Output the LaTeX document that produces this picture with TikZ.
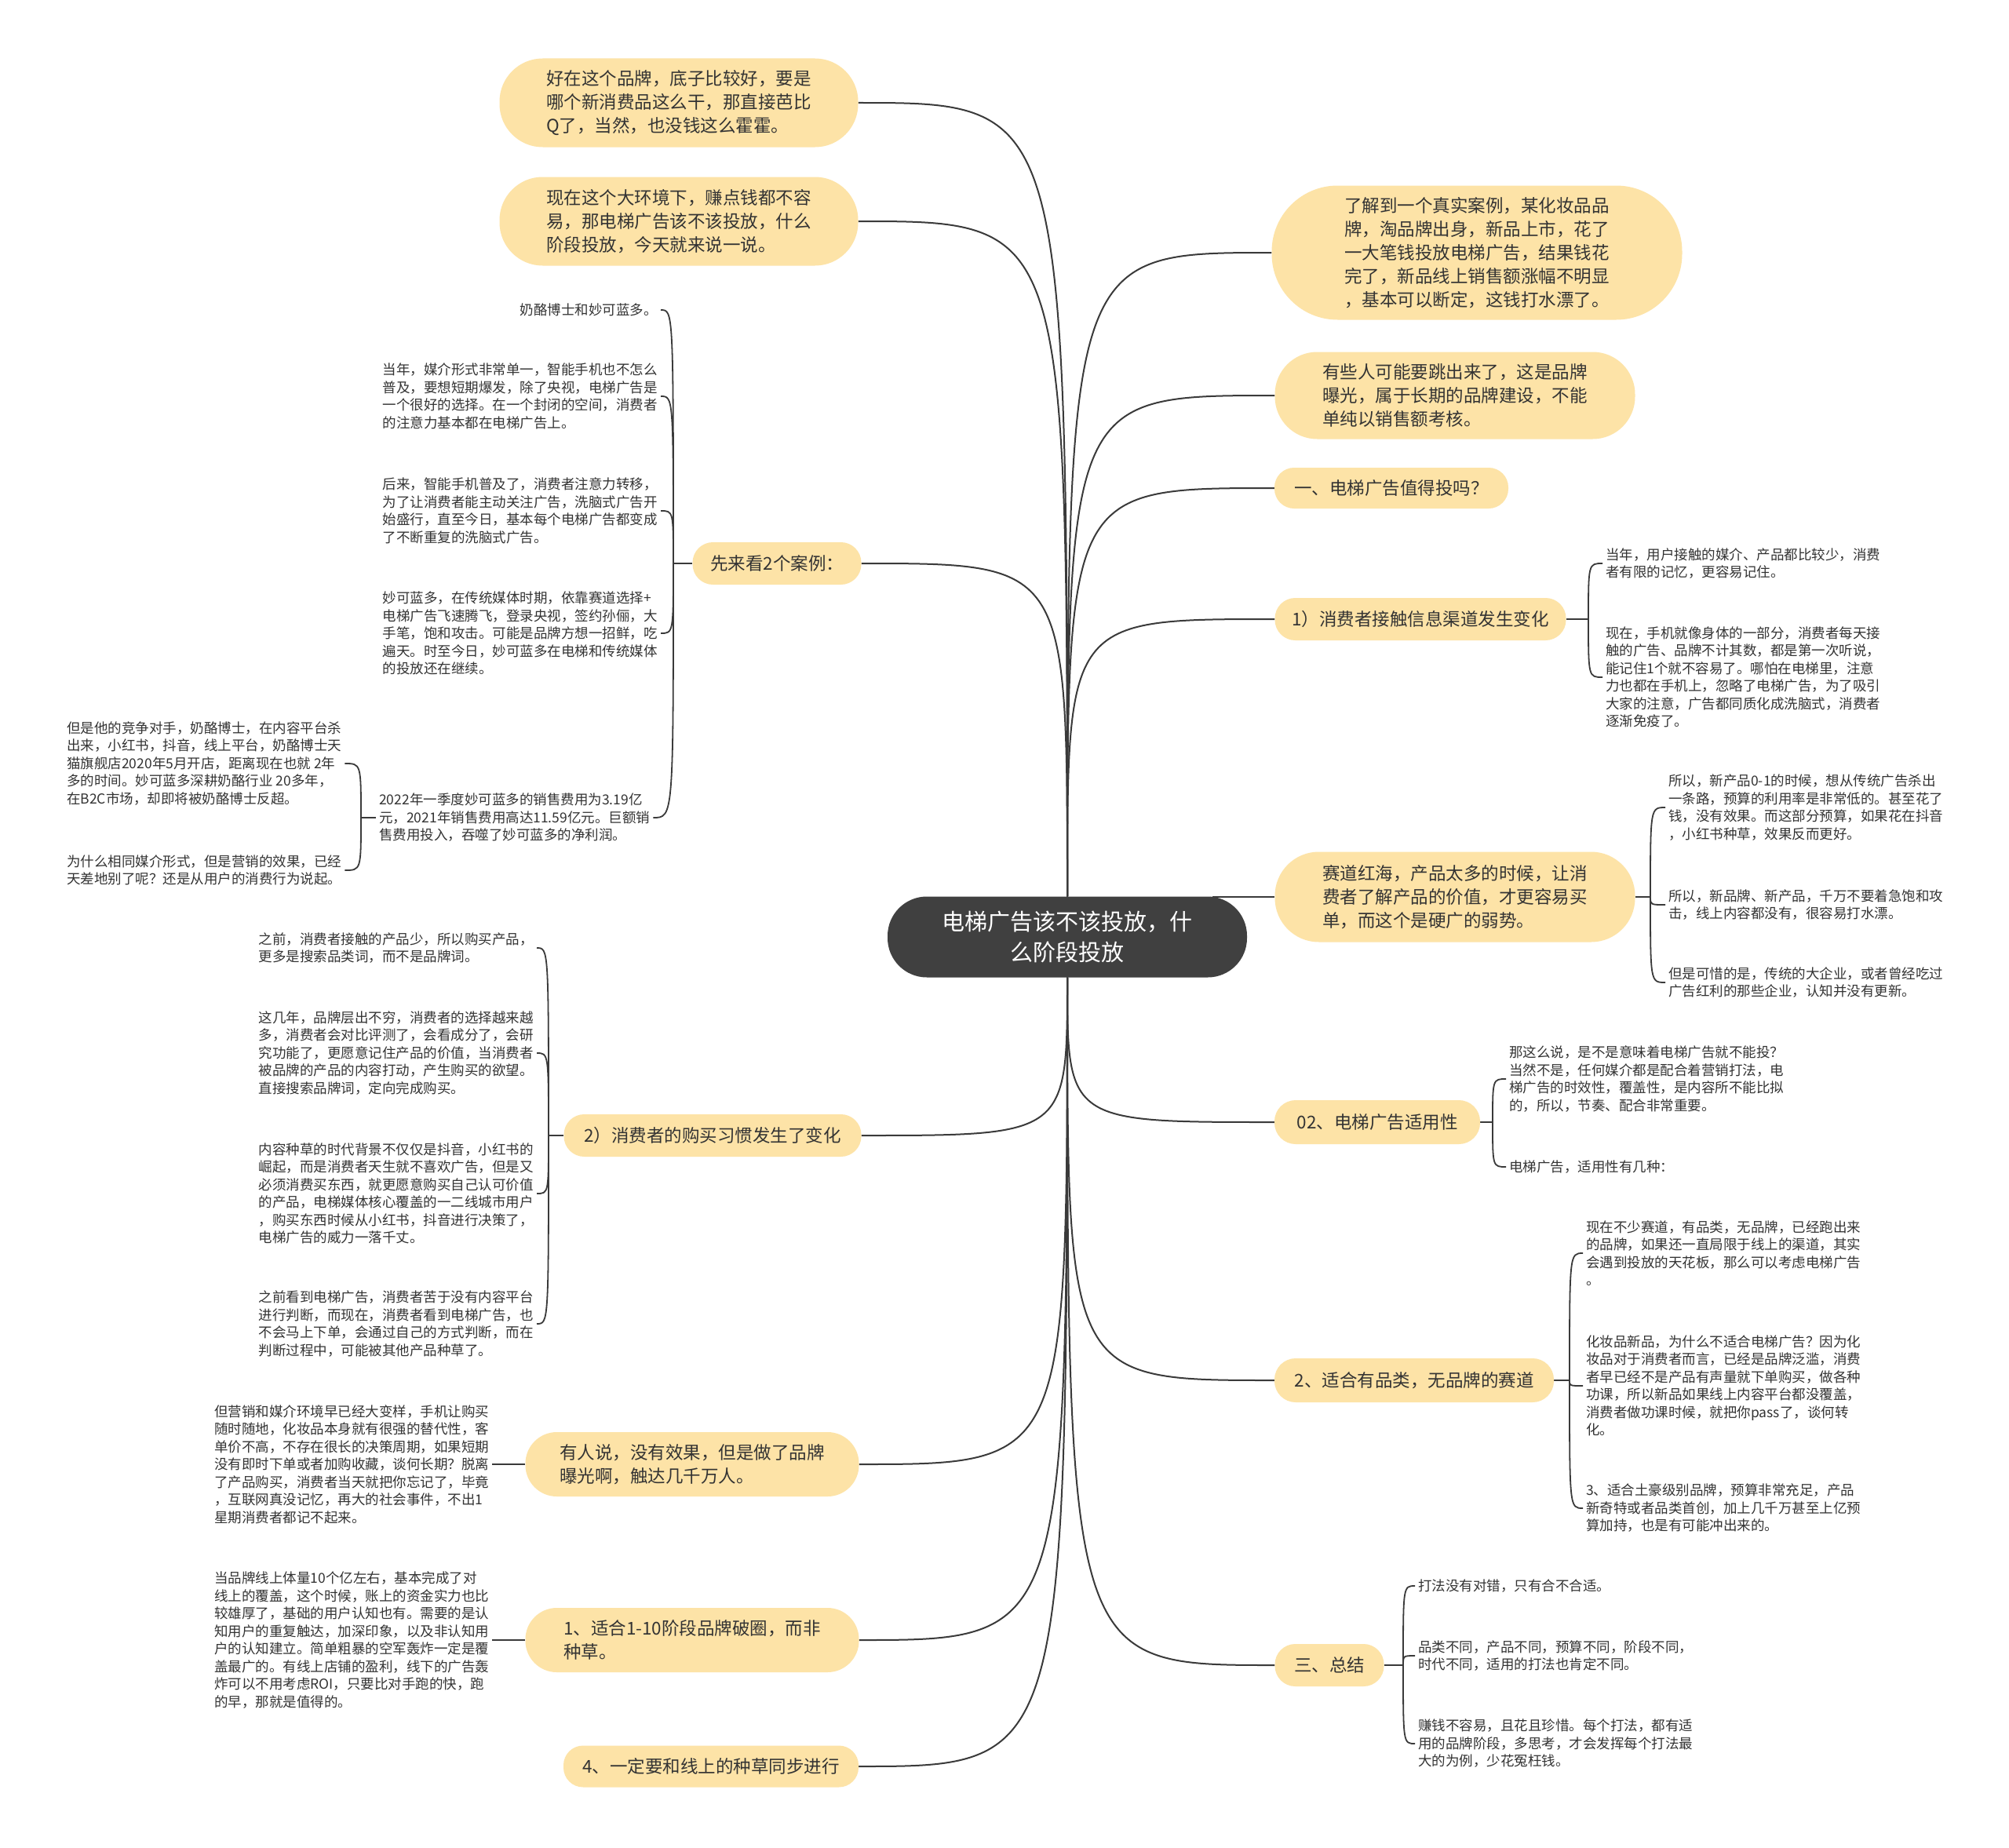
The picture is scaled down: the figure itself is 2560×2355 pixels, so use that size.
\documentclass[tikz,border=0pt]{standalone}
\usepackage{fontspec}
\setmainfont{Noto Sans CJK SC}
\usetikzlibrary{calc}
\definecolor{nodefill}{HTML}{FDE3A7}
\definecolor{centerfill}{HTML}{404040}
\definecolor{linecol}{HTML}{3A3A3A}
\definecolor{txt}{HTML}{333333}
\pgfdeclarelayer{bg}
\pgfdeclarelayer{paper}
\pgfsetlayers{paper,bg,main}
\tikzset{
  mainbox/.style={fill=nodefill, text=txt, font=\fontsize{22.5pt}{30pt}\selectfont, align=left, inner sep=0pt},
  leaf/.style={text=txt, font=\fontsize{17.5pt}{22.5pt}\selectfont, align=left, inner xsep=4pt, inner ysep=2pt},
  conn/.style={draw=linecol, line width=2pt},
  brk/.style={draw=linecol, line width=1.8pt},
}
\begin{document}
\begin{tikzpicture}[x=1pt,y=-1pt]
\begin{pgfonlayer}{paper}
\fill[white] (0,0) rectangle (2560,2355);
\end{pgfonlayer}
\useasboundingbox (0,0) rectangle (2560,2355);

% center
\node[fill=centerfill, text=white, font=\fontsize{29pt}{39pt}\selectfont, align=center, minimum width=458pt, minimum height=103pt, rounded corners=50pt, inner sep=0pt] (c) at (1360,1194) {电梯广告该不该投放，什\\么阶段投放};

% right main nodes
\node[mainbox, minimum width=523pt, minimum height=171pt, rounded corners=84pt] (r1) at (1882,322) {了解到一个真实案例，某化妆品品\\牌，淘品牌出身，新品上市，花了\\一大笔钱投放电梯广告，结果钱花\\完了，新品线上销售额涨幅不明显\\，基本可以断定，这钱打水漂了。};
\node[mainbox, minimum width=459pt, minimum height=111pt, rounded corners=54pt] (r2) at (1854,504) {有些人可能要跳出来了，这是品牌\\曝光，属于长期的品牌建设，不能\\单纯以销售额考核。};
\node[mainbox, minimum width=298pt, minimum height=52pt, rounded corners=25pt] (r3) at (1773,622) {一、电梯广告值得投吗？};
\node[mainbox, minimum width=371pt, minimum height=54pt, rounded corners=26pt] (r4) at (1810,789) {1）消费者接触信息渠道发生变化};
\node[mainbox, minimum width=459pt, minimum height=115pt, rounded corners=56pt] (r5) at (1854,1143) {赛道红海，产品太多的时候，让消\\费者了解产品的价值，才更容易买\\单，而这个是硬广的弱势。};
\node[mainbox, minimum width=262pt, minimum height=56pt, rounded corners=27pt] (r6) at (1755,1430) {02、电梯广告适用性};
\node[mainbox, minimum width=356pt, minimum height=56pt, rounded corners=27pt] (r7) at (1802,1759) {2、适合有品类，无品牌的赛道};
\node[mainbox, minimum width=139pt, minimum height=54pt, rounded corners=26pt] (r8) at (1694,2122) {三、总结};

% left main nodes
\node[mainbox, minimum width=457pt, minimum height=113pt, rounded corners=55pt] (l1) at (865,131) {好在这个品牌，底子比较好，要是\\哪个新消费品这么干，那直接芭比\\Q了，当然，也没钱这么霍霍。};
\node[mainbox, minimum width=457pt, minimum height=113pt, rounded corners=55pt] (l2) at (865,282) {现在这个大环境下，赚点钱都不容\\易，那电梯广告该不该投放，什么\\阶段投放，今天就来说一说。};
\node[mainbox, minimum width=215pt, minimum height=54pt, rounded corners=26pt] (l3) at (990,718) {先来看2个案例：};
\node[mainbox, minimum width=379pt, minimum height=54pt, rounded corners=26pt] (l4) at (908,1447) {2）消费者的购买习惯发生了变化};
\node[mainbox, minimum width=425pt, minimum height=82pt, rounded corners=40pt] (l5) at (882,1866) {有人说，没有效果，但是做了品牌\\曝光啊，触达几千万人。};
\node[mainbox, minimum width=425pt, minimum height=82pt, rounded corners=40pt] (l6) at (882,2090) {1、适合1-10阶段品牌破圈，而非\\种草。};
\node[mainbox, minimum width=376pt, minimum height=53pt, rounded corners=25pt] (l7) at (906,2251) {4、一定要和线上的种草同步进行};

% leaves of l3
\node[leaf, anchor=east] (c1) at (842,395) {奶酪博士和妙可蓝多。};
\node[leaf, anchor=east] (c2) at (842,505) {当年，媒介形式非常单一，智能手机也不怎么\\普及，要想短期爆发，除了央视，电梯广告是\\一个很好的选择。在一个封闭的空间，消费者\\的注意力基本都在电梯广告上。};
\node[leaf, anchor=east] (c3) at (842,651) {后来，智能手机普及了，消费者注意力转移，\\为了让消费者能主动关注广告，洗脑式广告开\\始盛行，直至今日，基本每个电梯广告都变成\\了不断重复的洗脑式广告。};
\node[leaf, anchor=east] (c4) at (842,807) {妙可蓝多，在传统媒体时期，依靠赛道选择+\\电梯广告飞速腾飞，登录央视，签约孙俪，大\\手笔，饱和攻击。可能是品牌方想一招鲜，吃\\遍天。时至今日，妙可蓝多在电梯和传统媒体\\的投放还在继续。};
\node[leaf, anchor=west] (c5) at (479,1042) {2022年一季度妙可蓝多的销售费用为3.19亿\\元，2021年销售费用高达11.59亿元。巨额销\\售费用投入，吞噬了妙可蓝多的净利润。};
\node[leaf, anchor=west] (c5a) at (81,973) {但是他的竞争对手，奶酪博士，在内容平台杀\\出来，小红书，抖音，线上平台，奶酪博士天\\猫旗舰店2020年5月开店，距离现在也就 2年\\多的时间。妙可蓝多深耕奶酪行业 20多年，\\在B2C市场，却即将被奶酪博士反超。};
\node[leaf, anchor=west] (c5b) at (81,1109) {为什么相同媒介形式，但是营销的效果，已经\\天差地别了呢？还是从用户的消费行为说起。};

% leaves of l4
\node[leaf, anchor=east] (d1) at (684,1208) {之前，消费者接触的产品少，所以购买产品，\\更多是搜索品类词，而不是品牌词。};
\node[leaf, anchor=east] (d2) at (684,1342) {这几年，品牌层出不穷，消费者的选择越来越\\多，消费者会对比评测了，会看成分了，会研\\究功能了，更愿意记住产品的价值，当消费者\\被品牌的产品的内容打动，产生购买的欲望。\\直接搜索品牌词，定向完成购买。};
\node[leaf, anchor=east] (d3) at (684,1521) {内容种草的时代背景不仅仅是抖音，小红书的\\崛起，而是消费者天生就不喜欢广告，但是又\\必须消费买东西，就更愿意购买自己认可价值\\的产品，电梯媒体核心覆盖的一二线城市用户\\，购买东西时候从小红书，抖音进行决策了，\\电梯广告的威力一落千丈。};
\node[leaf, anchor=east] (d4) at (684,1687) {之前看到电梯广告，消费者苦于没有内容平台\\进行判断，而现在，消费者看到电梯广告，也\\不会马上下单，会通过自己的方式判断，而在\\判断过程中，可能被其他产品种草了。};

% leaves of l5, l6
\node[leaf, anchor=west] (j1) at (269,1866) {但营销和媒介环境早已经大变样，手机让购买\\随时随地，化妆品本身就有很强的替代性，客\\单价不高，不存在很长的决策周期，如果短期\\没有即时下单或者加购收藏，谈何长期？脱离\\了产品购买，消费者当天就把你忘记了，毕竟\\，互联网真没记忆，再大的社会事件，不出1\\星期消费者都记不起来。};
\node[leaf, anchor=west] (k1) at (269,2090) {当品牌线上体量10个亿左右，基本完成了对\\线上的覆盖，这个时候，账上的资金实力也比\\较雄厚了，基础的用户认知也有。需要的是认\\知用户的重复触达，加深印象，以及非认知用\\户的认知建立。简单粗暴的空军轰炸一定是覆\\盖最广的。有线上店铺的盈利，线下的广告轰\\炸可以不用考虑ROI，只要比对手跑的快，跑\\的早，那就是值得的。};

% leaves of r4
\node[leaf, anchor=west] (e1) at (2042,718) {当年，用户接触的媒介、产品都比较少，消费\\者有限的记忆，更容易记住。};
\node[leaf, anchor=west] (e2) at (2042,863) {现在，手机就像身体的一部分，消费者每天接\\触的广告、品牌不计其数，都是第一次听说，\\能记住1个就不容易了。哪怕在电梯里，注意\\力也都在手机上，忽略了电梯广告，为了吸引\\大家的注意，广告都同质化成洗脑式，消费者\\逐渐免疫了。};

% leaves of r5
\node[leaf, anchor=west] (f1) at (2122,1029) {所以，新产品0-1的时候，想从传统广告杀出\\一条路，预算的利用率是非常低的。甚至花了\\钱，没有效果。而这部分预算，如果花在抖音\\，小红书种草，效果反而更好。};
\node[leaf, anchor=west] (f2) at (2122,1153) {所以，新品牌、新产品，千万不要着急饱和攻\\击，线上内容都没有，很容易打水漂。};
\node[leaf, anchor=west] (f3) at (2122,1252) {但是可惜的是，传统的大企业，或者曾经吃过\\广告红利的那些企业，认知并没有更新。};

% leaves of r6
\node[leaf, anchor=west] (g1) at (1919,1375) {那这么说，是不是意味着电梯广告就不能投？\\当然不是，任何媒介都是配合着营销打法，电\\梯广告的时效性，覆盖性，是内容所不能比拟\\的，所以，节奏、配合非常重要。};
\node[leaf, anchor=west] (g2) at (1919,1487) {电梯广告，适用性有几种：};

% leaves of r7
\node[leaf, anchor=west] (h1) at (2017,1597) {现在不少赛道，有品类，无品牌，已经跑出来\\的品牌，如果还一直局限于线上的渠道，其实\\会遇到投放的天花板，那么可以考虑电梯广告\\。};
\node[leaf, anchor=west] (h2) at (2017,1766) {化妆品新品，为什么不适合电梯广告？因为化\\妆品对于消费者而言，已经是品牌泛滥，消费\\者早已经不是产品有声量就下单购买，做各种\\功课，所以新品如果线上内容平台都没覆盖，\\消费者做功课时候，就把你pass了，谈何转\\化。};
\node[leaf, anchor=west] (h3) at (2017,1922) {3、适合土豪级别品牌，预算非常充足，产品\\新奇特或者品类首创，加上几千万甚至上亿预\\算加持，也是有可能冲出来的。};

% leaves of r8
\node[leaf, anchor=west] (i1) at (1803,2021) {打法没有对错，只有合不合适。};
\node[leaf, anchor=west] (i2) at (1803,2110) {品类不同，产品不同，预算不同，阶段不同，\\时代不同，适用的打法也肯定不同。};
\node[leaf, anchor=west] (i3) at (1803,2222) {赚钱不容易，且花且珍惜。每个打法，都有适\\用的品牌阶段，多思考，才会发挥每个打法最\\大的为例，少花冤枉钱。};

% junctions
\coordinate (j3) at (858,718);
\coordinate (j5) at (460,1042);
\coordinate (j4) at (699,1447);
\coordinate (jr4) at (2024,789);
\coordinate (jr5) at (2103,1143);
\coordinate (jr6) at (1902,1430);
\coordinate (jr7) at (2000,1759);
\coordinate (jr8) at (1788,2122);
\coordinate (cr) at (1545,1143);

\begin{pgfonlayer}{bg}
% main connectors, upper
\foreach \n in {r1,r2,r3,r4}
  \draw[conn] (c.north) .. controls (c.north |- \n.west) .. (\n.west);
\foreach \n in {l1,l2,l3}
  \draw[conn] (c.north) .. controls (c.north |- \n.east) .. (\n.east);
\draw[conn] (cr) -- (r5.west);
% main connectors, lower
\foreach \n in {r6,r7,r8}
  \draw[conn] (c.south) .. controls (c.south |- \n.west) .. (\n.west);
\foreach \n in {l4,l5,l6,l7}
  \draw[conn] (c.south) .. controls (c.south |- \n.east) .. (\n.east);
% brackets left
\draw[brk] (l3.west) -- (j3);
\foreach \n in {c1,c2,c3,c4,c5}
  \draw[brk] (j3) .. controls (j3 |- \n.east) .. (\n.east);
\draw[brk] (c5.west) -- (j5);
\foreach \n in {c5a,c5b}
  \draw[brk] (j5) .. controls (j5 |- \n.east) .. (\n.east);
\draw[brk] (l4.west) -- (j4);
\foreach \n in {d1,d2,d3,d4}
  \draw[brk] (j4) .. controls (j4 |- \n.east) .. (\n.east);
\draw[brk] (l5.west) -- (j1.east);
\draw[brk] (l6.west) -- (k1.east);
% brackets right
\draw[brk] (r4.east) -- (jr4);
\foreach \n in {e1,e2}
  \draw[brk] (jr4) .. controls (jr4 |- \n.west) .. (\n.west);
\draw[brk] (r5.east) -- (jr5);
\foreach \n in {f1,f2,f3}
  \draw[brk] (jr5) .. controls (jr5 |- \n.west) .. (\n.west);
\draw[brk] (r6.east) -- (jr6);
\foreach \n in {g1,g2}
  \draw[brk] (jr6) .. controls (jr6 |- \n.west) .. (\n.west);
\draw[brk] (r7.east) -- (jr7);
\foreach \n in {h1,h2,h3}
  \draw[brk] (jr7) .. controls (jr7 |- \n.west) .. (\n.west);
\draw[brk] (r8.east) -- (jr8);
\foreach \n in {i1,i2,i3}
  \draw[brk] (jr8) .. controls (jr8 |- \n.west) .. (\n.west);
\end{pgfonlayer}
\end{tikzpicture}
\end{document}
